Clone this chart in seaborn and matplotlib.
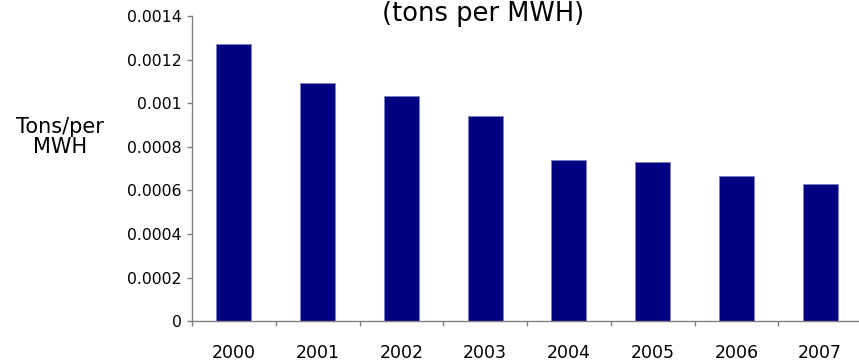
import matplotlib
matplotlib.use("Agg")
import matplotlib.pyplot as plt
import seaborn as sns
import pandas as pd
from matplotlib.ticker import FixedLocator

years = ["2000", "2001", "2002", "2003", "2004", "2005", "2006", "2007"]
tons_per_mwh = [0.00127, 0.001095, 0.001035, 0.000942, 0.000739, 0.000731, 0.000665, 0.000629]
y_ticks = [0, 0.0002, 0.0004, 0.0006, 0.0008, 0.001, 0.0012, 0.0014]
y_tick_labels = ["0", "0.0002", "0.0004", "0.0006", "0.0008", "0.001", "0.0012", "0.0014"]

df = pd.DataFrame({"year": years, "rate": tons_per_mwh})

sns.set_theme(style="white")
plt.rcParams["font.family"] = ["DejaVu Sans"]

W, H = 859, 361
fig = plt.figure(figsize=(W / 100, H / 100), dpi=100)
ax = fig.add_axes([192 / W, (H - 321.3) / H, 670 / W, 305.3 / H])

sns.barplot(data=df, x="year", y="rate", order=years, color="#000080",
            width=0.42, saturation=1, edgecolor="#7f7fbf", linewidth=0.6, ax=ax)

ax.set_xlim(-0.5, len(years) - 0.5)
ax.set_ylim(0, 0.0014)
ax.set_yticks(y_ticks)
ax.set_yticklabels(y_tick_labels)
ax.set_xlabel("")
ax.set_ylabel("")

for side in ("top", "right"):
    ax.spines[side].set_visible(False)
for side in ("left", "bottom"):
    ax.spines[side].set_color("#808080")
    ax.spines[side].set_linewidth(1.0)

# category labels centred, tick marks between categories
ax.tick_params(axis="x", which="major", length=0, pad=16, labelsize=12.5, colors="black")
ax.xaxis.set_minor_locator(FixedLocator([i - 0.5 for i in range(len(years) + 1)]))
ax.tick_params(axis="x", which="minor", length=3.6, width=1, color="#808080", direction="out", bottom=True)
ax.tick_params(axis="y", which="major", length=3.6, width=1, color="#808080", direction="out",
               left=True, labelsize=11.3, labelcolor="black", pad=4)

fig.text(60 / W, 1 - 137 / H, "Tons/per\nMWH", ha="center", va="center", fontsize=15,
         linespacing=1.0, color="black")
fig.text(483 / W, 1 - 14 / H, "(tons per MWH)", ha="center", va="center", fontsize=18.5,
         color="black")

fig.savefig("out.png", dpi=100)
